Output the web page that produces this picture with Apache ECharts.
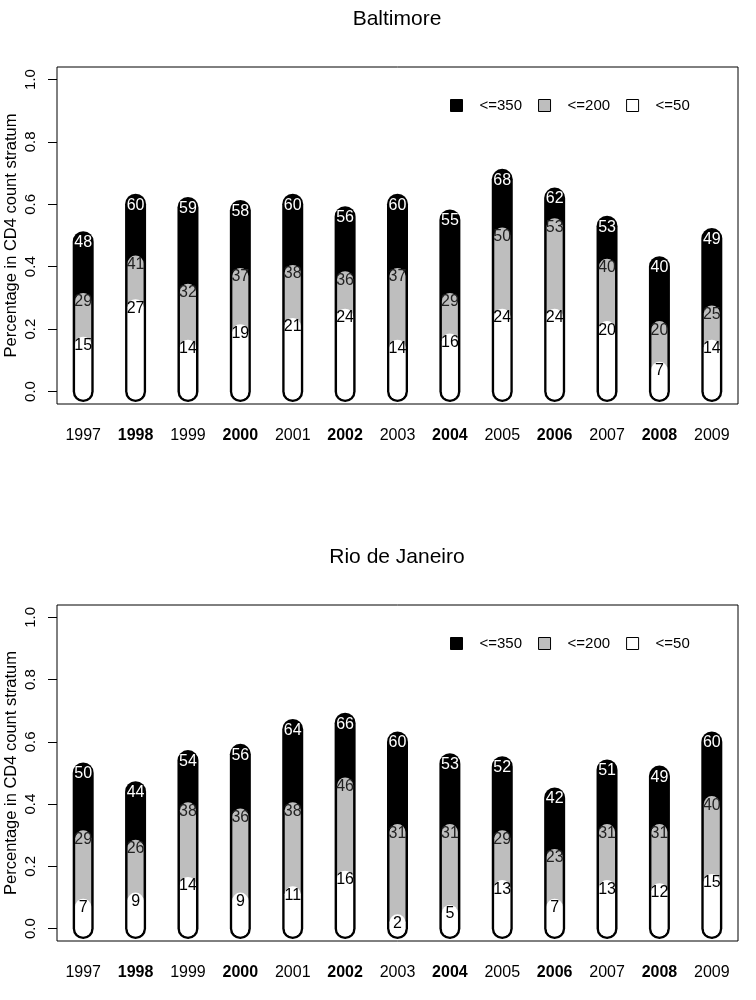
<!DOCTYPE html>
<html>
<head>
<meta charset="utf-8">
<script src="https://cdn.jsdelivr.net/npm/echarts@6/dist/echarts.min.js"></script>
<style>
html,body{margin:0;padding:0;background:#fff;}
#chart{width:756px;height:1000px;}
</style>
</head>
<body>
<div id="chart"></div>
<script>
// ---- data ----
const years = ['1997','1998','1999','2000','2001','2002','2003','2004','2005','2006','2007','2008','2009'];
const yTicks = [0, 0.2, 0.4, 0.6, 0.8, 1.0];
const legendNames = ['<=350', '<=200', '<=50'];
const cityTitles = ['Baltimore', 'Rio de Janeiro'];
const yAxisTitle = 'Percentage in CD4 count stratum';

const balt350 = [48, 60, 59, 58, 60, 56, 60, 55, 68, 62, 53, 40, 49];
const balt200 = [29, 41, 32, 37, 38, 36, 37, 29, 50, 53, 40, 20, 25];
const balt50  = [15, 27, 14, 19, 21, 24, 14, 16, 24, 24, 20, 7, 14];

const rio350 = [50, 44, 54, 56, 64, 66, 60, 53, 52, 42, 51, 49, 60];
const rio200 = [29, 26, 38, 36, 38, 46, 31, 31, 29, 23, 31, 31, 40];
const rio50  = [7, 9, 14, 9, 11, 16, 2, 5, 13, 7, 13, 12, 15];

// ---- styling ----
const FONT = '"Liberation Sans", Arial, sans-serif';
const layers = [
  {name: legendNames[0], color: '#000000', width: 21, text: '#ffffff'},
  {name: legendNames[1], color: '#bebebe', width: 16, text: '#222222'},
  {name: legendNames[2], color: '#ffffff', width: 16, text: '#000000'}
];

function makeRender(layer) {
  return function (params, api) {
    const x = api.value(0);
    const v = api.value(1);
    const p0 = api.coord([x, 0]);
    const p1 = api.coord([x, v]);
    return {
      type: 'group',
      children: [
        {type: 'line', shape: {x1: p0[0], y1: p0[1], x2: p1[0], y2: p1[1]},
         style: {stroke: layer.color, lineWidth: layer.width, lineCap: 'round'}},
        {type: 'text', z2: 10, style: {text: String(Math.round(v * 100)), x: p1[0], y: p1[1] + 1,
          align: 'center', verticalAlign: 'middle', fill: layer.text,
          fontSize: 16, fontFamily: FONT}}
      ]
    };
  };
}

const cityData = [[balt350, balt200, balt50], [rio350, rio200, rio50]];
const gridTops = [67, 605];
const gridHeights = [337, 336];
const offsets = [0, 538];

const grids = [], xAxes = [], yAxes = [], series = [], titles = [], legends = [];
cityData.forEach((sets, g) => {
  grids.push({left: 57, width: 681, top: gridTops[g], height: gridHeights[g], show: true,
    borderColor: '#000', borderWidth: 1, backgroundColor: 'transparent',
    containLabel: false, outerBoundsMode: 'none'});
  xAxes.push({type: 'category', gridIndex: g, data: years, boundaryGap: true,
    axisLine: {show: false},
    axisTick: {show: true, alignWithLabel: true, length: 10, lineStyle: {color: '#000', width: 1}},
    axisLabel: {interval: 0, margin: 24, fontSize: 16, color: '#000', fontFamily: FONT,
      formatter: (v) => (parseInt(v, 10) % 2 === 0 ? '{b|' + v + '}' : v),
      rich: {b: {fontWeight: 'bold', fontSize: 16, color: '#000', fontFamily: FONT}}},
    splitLine: {show: false}});
  yAxes.push({type: 'value', gridIndex: g, min: -0.04, max: 1.04,
    name: yAxisTitle, nameLocation: 'middle', nameRotate: 90, nameGap: 37, nameMoveOverlap: false,
    nameTextStyle: {fontSize: 16.5, color: '#000', fontFamily: FONT},
    axisLine: {show: false},
    axisTick: {show: true, length: 9, customValues: yTicks, lineStyle: {color: '#000', width: 1}},
    axisLabel: {customValues: yTicks, rotate: 90, margin: 19, fontSize: 15, color: '#000', fontFamily: FONT,
      formatter: (v) => Number(v).toFixed(1)},
    splitLine: {show: false}});
  titles.push({text: cityTitles[g], left: 392, top: 4 + offsets[g], textAlign: 'center',
    textStyle: {fontSize: 21, fontWeight: 'normal', color: '#000', fontFamily: FONT}});
  legends.push({left: 445, top: 93 + offsets[g], orient: 'horizontal', itemWidth: 12, itemHeight: 12,
    itemGap: 16, selectedMode: false, icon: 'rect',
    textStyle: {fontSize: 15, color: '#000', fontFamily: FONT, padding: [0, 0, 0, 12]},
    data: layers.map(l => ({name: l.name, itemStyle: {color: l.color, borderColor: '#000', borderWidth: 1}}))});
  layers.forEach((layer, k) => {
    series.push({type: 'custom', name: layer.name, xAxisIndex: g, yAxisIndex: g, z: 2 + k,
      renderItem: makeRender(layer), clip: false,
      itemStyle: {color: layer.color, borderColor: '#000', borderWidth: 1},
      encode: {x: 0, y: 1},
      data: sets[k].map((v, i) => [i, v / 100])});
  });
});

const chart = echarts.init(document.getElementById('chart'), null, {renderer: 'canvas'});
chart.setOption({
  animation: false,
  backgroundColor: '#fff',
  textStyle: {fontFamily: FONT},
  title: titles,
  legend: legends,
  grid: grids,
  xAxis: xAxes,
  yAxis: yAxes,
  series: series
});
</script>
</body>
</html>
